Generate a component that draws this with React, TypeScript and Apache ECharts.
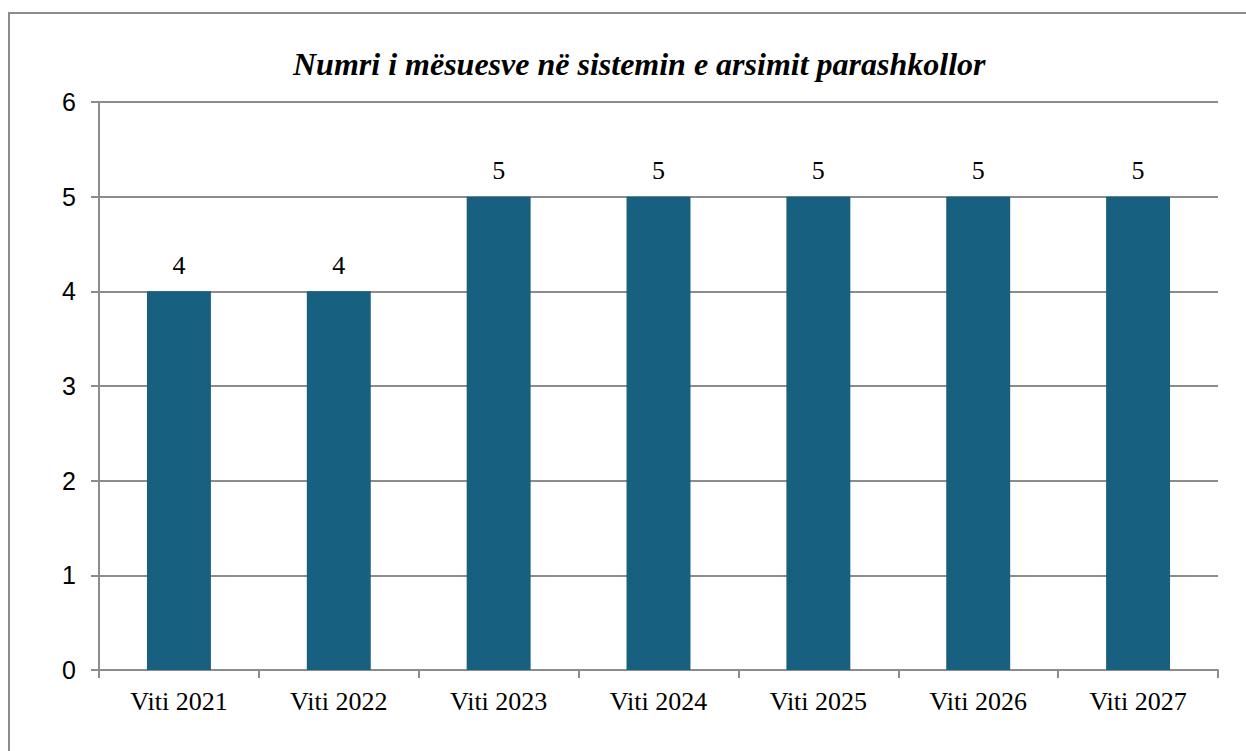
import React, { useEffect, useRef } from "react";
import * as echarts from "echarts";

const categories = ["Viti 2021", "Viti 2022", "Viti 2023", "Viti 2024", "Viti 2025", "Viti 2026", "Viti 2027"];
const values = [4, 4, 5, 5, 5, 5, 5];
const titleText = "Numri i mësuesve në sistemin e arsimit parashkollor";

export default function App() {
  const ref = useRef<HTMLDivElement>(null);
  useEffect(() => {
    if (!ref.current) return;
    const chart = echarts.init(ref.current, null, { renderer: "svg" });
    const gray = "#8c8c8c";
    const serif = "Liberation Serif";
    chart.setOption({
      animation: false,
      backgroundColor: "#ffffff",
      title: {
        text: titleText,
        left: 288,
        top: 43,
        textStyle: {
          fontFamily: serif,
          fontSize: 32,
          fontWeight: "bold",
          fontStyle: "italic",
          color: "#000",
        },
      },
      graphic: [
        {
          type: "rect",
          shape: { x: 9, y: 13, width: 1300, height: 800 },
          style: { fill: "none", stroke: gray, lineWidth: 2 },
          silent: true,
          z: -1,
        },
      ],
      grid: { left: 99, top: 102, right: 28, bottom: 81 },
      xAxis: {
        type: "category",
        data: categories,
        axisLine: { lineStyle: { color: gray, width: 2 } },
        axisTick: { show: true, length: 8, lineStyle: { color: gray, width: 2 } },
        axisLabel: {
          fontFamily: serif,
          fontSize: 26,
          color: "#000",
          margin: 18,
        },
      },
      yAxis: {
        type: "value",
        min: 0,
        max: 6,
        interval: 1,
        axisLine: { show: true, lineStyle: { color: gray, width: 2 } },
        axisTick: { show: true, length: 8, lineStyle: { color: gray, width: 2 } },
        splitLine: { show: true, lineStyle: { color: gray, width: 2 } },
        axisLabel: {
          fontFamily: "Liberation Sans",
          fontSize: 25,
          color: "#000",
          margin: 23,
        },
      },
      series: [
        {
          type: "bar",
          data: values,
          barWidth: "40%",
          itemStyle: { color: "#17607f" },
          label: {
            show: true,
            position: "top",
            distance: 13,
            fontFamily: serif,
            fontSize: 26,
            color: "#000",
          },
        },
      ],
    });
    return () => chart.dispose();
  }, []);
  return <div ref={ref} style={{ position: "fixed", left: 0, top: 0, width: 1246, height: 751 }} />;
}
